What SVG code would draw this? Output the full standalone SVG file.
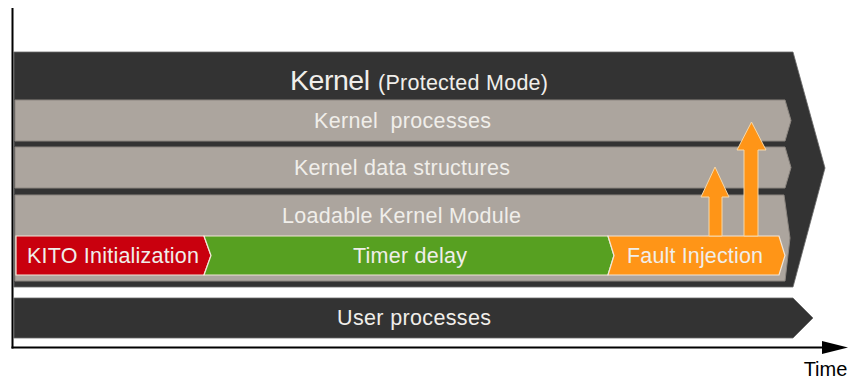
<svg xmlns="http://www.w3.org/2000/svg" width="848" height="380" viewBox="0 0 848 380">
<style>
.lbl{font-family:"Liberation Sans",Arial,sans-serif;fill:#f0eeea;text-anchor:middle;white-space:pre}
.dark{fill:#333333;stroke:#6a6a6a;stroke-width:0.8}
.gray{fill:#aca59e;stroke:#8c8680;stroke-width:1}
.bar{stroke:#f2e6d8;stroke-width:1.2}
.arr{fill:#ff9517;stroke:#f7d8a8;stroke-width:1}
</style>
<rect width="848" height="380" fill="#ffffff"/>
<g id="kernel">
<polygon class="dark" points="14,52 793,52 825,168 793,287 14,287"/>
<text class="lbl" x="290" y="90" font-size="28.5" textLength="80" style="text-anchor:start">Kernel</text>
<text class="lbl" x="378" y="90" font-size="21.5" textLength="170" style="text-anchor:start">(Protected Mode)</text>
</g>
<g id="kernel-processes">
<polygon class="gray" points="15,100 785,100 791,120.5 785,141 15,141"/>
<text class="lbl" x="402.5" y="128" font-size="21.5" textLength="177">Kernel  processes</text>
</g>
<g id="kernel-data-structures">
<polygon class="gray" points="15,147 785,147 791,167.5 785,188 15,188"/>
<text class="lbl" x="402" y="174.5" font-size="21.5" textLength="216">Kernel data structures</text>
</g>
<g id="loadable-kernel-module">
<polygon class="gray" points="15,195 784,195 790,238 785,281 15,281"/>
<text class="lbl" x="401.5" y="223" font-size="21.5" textLength="239">Loadable Kernel Module</text>
</g>
<g id="kito-initialization">
<polygon class="bar" fill="#c9000e" stroke="#f0c4c4" points="16,236 204,236 211,255.5 204,275 16,275"/>
<text class="lbl" x="113" y="262.5" font-size="21.5" textLength="172">KITO Initialization</text>
</g>
<g id="timer-delay">
<polygon class="bar" fill="#57a021" points="204,236 608,236 614,255.5 608,275 204,275 211,255.5"/>
<text class="lbl" x="410" y="262.5" font-size="21.5" textLength="114">Timer delay</text>
</g>
<g id="fault-injection">
<polygon class="bar" fill="#ff9517" points="608,236 779,236 785,255.5 779,275 608,275 614,255.5"/>
<text class="lbl" x="695" y="262.5" font-size="21.5" textLength="136">Fault Injection</text>
</g>
<g id="user-processes">
<polygon class="dark" points="14,298 793,298 813,318 793,338 14,338"/>
<text class="lbl" x="414" y="324.5" font-size="21.5" textLength="154">User processes</text>
</g>
<g id="connectors">
<polygon class="arr" points="709,236 709,197 701,197 715,167 729,197 722,197 722,236"/>
<polygon class="arr" points="744,236 744,150 737,150 751.5,122 766,150 758,150 758,236"/>
</g>
<g id="axes">
<line x1="12.5" y1="8" x2="12.5" y2="348.5" stroke="#000" stroke-width="2"/>
<line x1="11.5" y1="347.5" x2="824" y2="347.5" stroke="#000" stroke-width="2"/>
<polygon points="822,341 848,347.5 822,354" fill="#000"/>
<text x="825.5" y="376" font-family="Liberation Sans,Arial,sans-serif" font-size="20" fill="#000" text-anchor="middle">Time</text>
</g>
</svg>
